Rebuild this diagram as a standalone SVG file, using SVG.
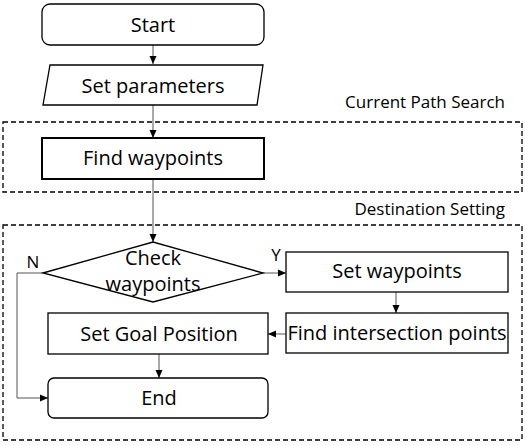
<svg xmlns="http://www.w3.org/2000/svg" width="529" height="446" viewBox="0 0 529 446">
<defs>
<marker id="ah" markerWidth="8" markerHeight="8" refX="8" refY="4" orient="auto" markerUnits="userSpaceOnUse">
<path d="M0,0.5 L8,4 L0,7.5 Z" fill="#000"/>
</marker>
<style>
.box{fill:#fff;stroke:#000;stroke-width:1.3}
.t{font-family:"Open Sans","Noto Sans",sans-serif;font-size:20px;fill:#000;text-anchor:middle}
.lbl{font-family:"Open Sans","Noto Sans",sans-serif;font-size:17px;fill:#000}
.grp{fill:none;stroke:#000;stroke-width:1.3;stroke-dasharray:5,3}
.c{fill:none;stroke:#555;stroke-width:1;marker-end:url(#ah)}
</style>
</defs>
<g id="groups">
<rect class="grp" x="3" y="122" width="519" height="70"/>
<text class="lbl" x="505" y="108" text-anchor="end">Current Path Search</text>
<rect class="grp" x="3" y="225" width="519" height="215"/>
<text class="lbl" x="505" y="215" text-anchor="end">Destination Setting</text>
</g>
<g id="connectors">
<path class="c" d="M153,45 V64"/>
<path class="c" d="M153,105 V138"/>
<path class="c" d="M153,179 V242"/>
<path class="c" d="M263,273 H286"/>
<path class="c" d="M396,292 V313"/>
<path class="c" d="M286,334 H268"/>
<path class="c" d="M159,354 V378"/>
<path class="c" d="M43,273 H17 V398 H48"/>
<text class="lbl" x="33" y="268" text-anchor="middle">N</text>
<text class="lbl" x="276" y="261" text-anchor="middle">Y</text>
</g>
<g id="start">
<rect class="box" x="42" y="4" width="222" height="41" rx="8"/>
<text class="t" x="153" y="32">Start</text>
</g>
<g id="set-parameters">
<polygon class="box" points="50,65 263,65 257,105 43,105"/>
<text class="t" x="153" y="93">Set parameters</text>
</g>
<g id="find-waypoints">
<rect class="box" x="42" y="138" width="222" height="41" style="stroke-width:2"/>
<text class="t" x="153" y="165">Find waypoints</text>
</g>
<g id="check-waypoints">
<polygon class="box" points="43,273 153,242 263,273 153,302"/>
<text class="t" x="153" y="265">Check</text>
<text class="t" x="153" y="291">waypoints</text>
</g>
<g id="set-waypoints">
<rect class="box" x="286" y="252" width="222" height="40"/>
<text class="t" x="397" y="278">Set waypoints</text>
</g>
<g id="find-intersection">
<rect class="box" x="286" y="313" width="222" height="40"/>
<text class="t" x="397" y="340">Find intersection points</text>
</g>
<g id="set-goal">
<rect class="box" x="48" y="313" width="220" height="41"/>
<text class="t" x="159" y="341">Set Goal Position</text>
</g>
<g id="end">
<rect class="box" x="48" y="378" width="220" height="40" rx="6"/>
<text class="t" x="159" y="405">End</text>
</g>
</svg>
